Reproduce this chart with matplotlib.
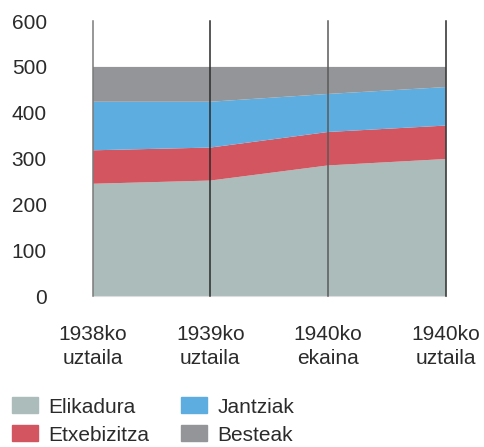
import numpy as np
from matplotlib import pyplot as plt
from matplotlib.patches import Patch

plt.rcParams['font.family'] = ['Liberation Sans', 'DejaVu Sans']

labels = ["1938ko\nuztaila", "1939ko\nuztaila", "1940ko\nekaina", "1940ko\nuztaila"]
elikadura = [245, 252, 285, 299]
etxebizitza = [73, 72, 73, 73]
jantziak = [106, 100, 83, 84]
besteak = [76, 76, 59, 44]

names = ["Elikadura", "Etxebizitza", "Jantziak", "Besteak"]
colors = ["#abbcbb", "#d2555f", "#5dade0", "#939598"]

fig = plt.figure(figsize=(4.84, 4.47), dpi=100)
ax = fig.add_axes([0.1915, 0.3378, 0.7293, 0.615])

x = np.arange(len(labels))
ax.stackplot(x, elikadura, etxebizitza, jantziak, besteak, colors=colors, linewidth=0)

line_colors = ["#7a7a7a", "#2a2a2a", "#5a5a5a", "#2a2a2a"]
for xi, lc in zip(x, line_colors):
    ax.axvline(xi, color=lc, lw=1.1, zorder=3, clip_on=False)

ax.set_xlim(0, 3)
ax.set_ylim(0, 600)
ax.set_yticks(range(0, 601, 100))
ax.set_xticks(x)
ax.set_xticklabels(labels, linespacing=1.32)

for s in ["top", "right", "left"]:
    ax.spines[s].set_visible(False)
ax.spines["bottom"].set_color("#dddddd")
ax.tick_params(axis="both", length=0, labelsize=15, labelcolor="#2b2b2b")
ax.tick_params(axis="y", pad=33)
ax.tick_params(axis="x", pad=21)

handles = [Patch(color=c, label=n) for c, n in zip(colors, names)]
fig.legend(handles=handles, ncol=2, loc="upper left", bbox_to_anchor=(12 / 484, 0.111),
           frameon=False, fontsize=15, handlelength=1.24, handleheight=0.8,
           handletextpad=0.5, columnspacing=1.52, labelspacing=0.42,
           labelcolor="#2b2b2b", borderpad=0, borderaxespad=0)

plt.savefig("out.png", dpi=100)
